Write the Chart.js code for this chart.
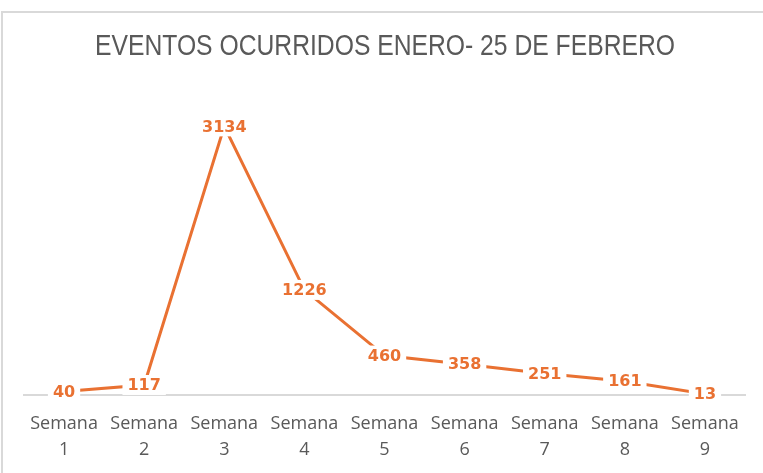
<!DOCTYPE html>
<html>
<head>
<meta charset="utf-8">
<script src="https://cdn.jsdelivr.net/npm/chart.js@4"></script>
<style>
    body { margin: 0; background: #fff; }
    #frame {
        position: absolute; left: 1px; top: 11px;
        width: 800px; height: 500px;
        border: 2px solid #d9d9d9;
    }
    #wrap { position: absolute; left: 0; top: 0; width: 763px; height: 473px; }
</style>
</head>
<body>
<div id="frame"></div>
<div id="wrap"><canvas id="eventsChart" width="763" height="473"></canvas></div>
<script>
// --- Data ---
const weeks = ['1', '2', '3', '4', '5', '6', '7', '8', '9'];
const events = [40, 117, 3134, 1226, 460, 358, 251, 161, 13];
const chartTitle = 'EVENTOS OCURRIDOS ENERO- 25 DE FEBRERO';

const orange = '#E97132';
const grayText = '#595959';

// --- Narrow title (no condensed font installed, so squeeze it) ---
const narrowTitle = {
    id: 'narrowTitle',
    afterDraw(chart) {
        const ctx = chart.ctx;
        ctx.save();
        ctx.font = '29px "Liberation Sans", sans-serif';
        ctx.fillStyle = grayText;
        ctx.textAlign = 'center';
        ctx.textBaseline = 'middle';
        const w = ctx.measureText(chartTitle).width;
        const sx = 580 / w;
        ctx.translate(385, 47);
        ctx.scale(sx, 1);
        ctx.fillText(chartTitle, 0, 0);
        ctx.restore();
    }
};

// --- Data labels drawn on a white box over the line ---
const pointLabels = {
    id: 'pointLabels',
    afterDraw(chart) {
        const ctx = chart.ctx;
        const meta = chart.getDatasetMeta(0);
        ctx.save();
        ctx.font = 'bold 16px "DejaVu Sans", sans-serif';
        ctx.textAlign = 'center';
        ctx.textBaseline = 'middle';
        meta.data.forEach((pt, i) => {
            const txt = String(events[i]);
            const w = ctx.measureText(txt).width;
            ctx.fillStyle = '#ffffff';
            ctx.fillRect(pt.x - w / 2 - 5, pt.y - 10, w + 10, 20);
            ctx.fillStyle = orange;
            ctx.fillText(txt, pt.x, pt.y + 1);
        });
        ctx.restore();
    }
};

const ctx = document.getElementById('eventsChart').getContext('2d');
new Chart(ctx, {
    type: 'line',
    data: {
        labels: weeks.map(w => ['Semana', w]),
        datasets: [{
            data: events,
            borderColor: orange,
            borderWidth: 3,
            pointRadius: 0,
            tension: 0
        }]
    },
    options: {
        responsive: false,
        animation: false,
        layout: { padding: { left: 24, right: 18, top: 95, bottom: 0 } },
        plugins: {
            legend: { display: false },
            tooltip: { enabled: false },
            title: { display: false }
        },
        scales: {
            x: {
                offset: true,
                grid: { display: true, color: 'transparent', drawTicks: false },
                border: { display: true, color: '#d9d9d9', width: 2 },
                ticks: {
                    color: grayText,
                    font: { family: '"Open Sans", sans-serif', size: 18, lineHeight: 1.45 },
                    padding: 16,
                    maxRotation: 0,
                    autoSkip: false
                },
                afterFit(scale) { scale.height = 78; }
            },
            y: {
                display: false,
                min: 0,
                max: 3500
            }
        }
    },
    plugins: [pointLabels, narrowTitle]
});
</script>
</body>
</html>
